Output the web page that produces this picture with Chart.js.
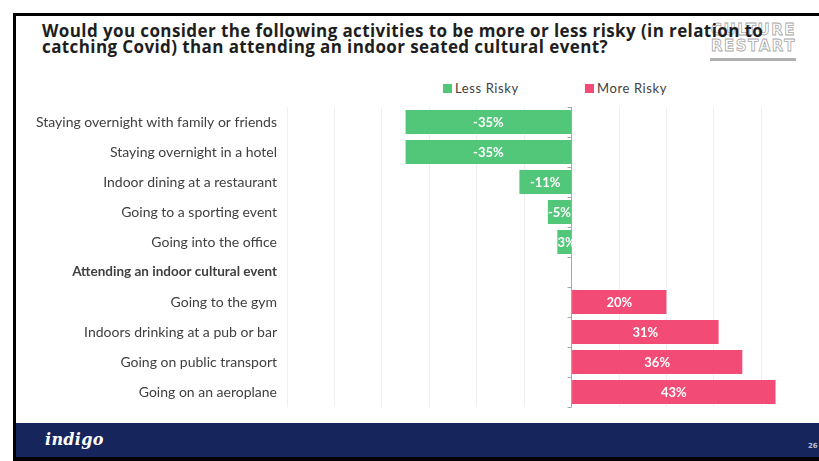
<!DOCTYPE html>
<html>
<head>
<meta charset="utf-8">
<title>Activities risk compared with an indoor cultural event</title>
<script src="https://cdn.jsdelivr.net/npm/chart.js@4/dist/chart.umd.min.js"></script>
<style>
	html, body { margin: 0; padding: 0; background: #fff; }
	body { width: 819px; height: 461px; position: relative; overflow: hidden; font-family: Lato, "Open Sans", sans-serif; }
	.frame-top { position: absolute; left: 13px; top: 13px; width: 806px; height: 3px; background: #000; }
	.frame-left { position: absolute; left: 13px; top: 13px; width: 3px; height: 448px; background: #000; }
	.footer { position: absolute; left: 16px; top: 423px; width: 803px; height: 34px; background: #16255b; }
	.footer-bottom { position: absolute; left: 13px; top: 457px; width: 806px; height: 4px; background: #000; }
	.brand { position: absolute; left: 45px; top: 430px; color: #fff; font: italic bold 16px "DejaVu Serif", serif; letter-spacing: 0.3px; }
	.page { position: absolute; left: 808px; top: 442px; color: #b9c0d6; font: bold 7px "DejaVu Sans", sans-serif; }
	.logo { position: absolute; left: 711px; top: 22px; width: 86px; font: bold 15px "DejaVu Sans", sans-serif; color: #fff;
		-webkit-text-stroke: 0.8px #a8a8a8; letter-spacing: 1.5px; line-height: 16px; }
	.logo-bar { position: absolute; left: 710px; top: 58px; width: 86px; height: 3px; background: #b0b0b0; }
	.title { position: absolute; left: 42px; top: 23px; color: #1e1e1e; font: bold 17px "Open Sans", sans-serif; line-height: 16px; letter-spacing: 0.4px; white-space: nowrap; }
	.legend { position: absolute; top: 80px; font-size: 13px; color: #404040; letter-spacing: 0.6px; }
	.legend i { display: inline-block; width: 9px; height: 9px; margin-right: 3px; vertical-align: 0px; }
	#grafico { position: absolute; left: 14px; top: 100px; }
</style>
</head>
<body>
<div class="frame-top"></div>
<div class="frame-left"></div>
<div class="logo">CULTURE<br>RESTART</div>
<div class="logo-bar"></div>
<div class="title">Would you consider the following activities to be more or less risky (in relation to<br>catching Covid) than attending an indoor seated cultural event?</div>
<div id="legenda"></div>
<canvas id="grafico" width="805" height="320"></canvas>
<div class="footer"></div>
<div class="footer-bottom"></div>
<div class="brand">indigo</div>
<div class="page">26</div>

<script>
var activities = [
	'Staying overnight with family or friends',
	'Staying overnight in a hotel',
	'Indoor dining at a restaurant',
	'Going to a sporting event',
	'Going into the office',
	'Attending an indoor cultural event',
	'Going to the gym',
	'Indoors drinking at a pub or bar',
	'Going on public transport',
	'Going on an aeroplane'
];
var lessRisky = [-35, -35, -11, -5, -3, null, null, null, null, null];
var moreRisky = [null, null, null, null, null, null, 20, 31, 36, 43];
var seriesNames = ['Less Risky', 'More Risky'];
var seriesColors = ['#52c77a', '#f24b75'];
var baseline = 'Attending an indoor cultural event';

// white percentage written in the middle of each bar
var barLabels = {
	id: 'barLabels',
	afterDatasetsDraw: function(chart) {
		var ctx = chart.ctx;
		ctx.save();
		ctx.fillStyle = '#fff';
		ctx.font = 'bold 13px Lato, sans-serif';
		ctx.textAlign = 'center';
		ctx.textBaseline = 'middle';
		chart.data.datasets.forEach(function(ds, i) {
			chart.getDatasetMeta(i).data.forEach(function(bar, j) {
				var v = ds.data[j];
				if (v === null) return;
				ctx.fillText(v + '%', (bar.x + bar.base) / 2, bar.y + 1);
			});
		});
		ctx.restore();
	}
};

// little tick marks on the zero line between rows
var zeroTicks = {
	id: 'zeroTicks',
	afterDraw: function(chart) {
		var ctx = chart.ctx;
		var x0 = chart.scales.x.getPixelForValue(0);
		var y = chart.scales.y;
		ctx.save();
		ctx.strokeStyle = '#a6a6a6';
		ctx.lineWidth = 1;
		ctx.beginPath();
		for (var i = 0; i <= activities.length; i++) {
			var py = Math.round(y.getPixelForValue(i - 0.5)) + 0.5;
			ctx.moveTo(x0 - 4, py);
			ctx.lineTo(x0, py);
		}
		ctx.stroke();
		ctx.restore();
	}
};

function montarLegenda() {
	var lefts = [443, 585];
	var html = '';
	seriesNames.forEach(function(nome, i) {
		html += '<div class="legend" style="left:' + lefts[i] + 'px"><i style="background:' + seriesColors[i] + '"></i>' + nome + '</div>';
	});
	document.getElementById('legenda').innerHTML = html;
}

var grafico = new Chart(document.getElementById('grafico').getContext('2d'), {
	type: 'bar',
	data: {
		labels: activities,
		datasets: [{
			label: seriesNames[0],
			data: lessRisky,
			backgroundColor: seriesColors[0],
			barPercentage: 0.8,
			categoryPercentage: 1
		}, {
			label: seriesNames[1],
			data: moreRisky,
			backgroundColor: seriesColors[1],
			barPercentage: 0.8,
			categoryPercentage: 1
		}]
	},
	options: {
		indexAxis: 'y',
		responsive: false,
		animation: false,
		layout: { padding: { top: 7, bottom: 13, right: 34, left: 0 } },
		plugins: {
			legend: { display: false },
			tooltip: { enabled: false }
		},
		scales: {
			x: {
				stacked: true,
				min: -60,
				max: 45,
				ticks: { display: false, stepSize: 10 },
				border: { display: false },
				grid: {
					drawTicks: false,
					lineWidth: 1,
					color: function(c) {
						if (c.tick.value === 0) return '#a6a6a6';
						if (c.tick.value === 45) return 'rgba(0,0,0,0)';
						return '#efefef';
					}
				},
				afterFit: function(scale) {
					scale.height = 0;
					scale.paddingLeft = scale.paddingRight = 0;
				}
			},
			y: {
				stacked: true,
				grid: { display: false, drawTicks: false },
				border: { display: false },
				ticks: {
					padding: 10,
					color: '#404040',
					font: function(c) {
						return activities[c.index] === baseline ?
							{ family: 'Lato, sans-serif', size: 13.5, weight: 'bold' } :
							{ family: 'Lato, sans-serif', size: 14 };
					}
				},
				afterFit: function(scale) {
					scale.width = 273;
					scale.paddingTop = scale.paddingBottom = 0;
				}
			}
		}
	},
	plugins: [barLabels, zeroTicks]
});

montarLegenda();
</script>
</body>
</html>
